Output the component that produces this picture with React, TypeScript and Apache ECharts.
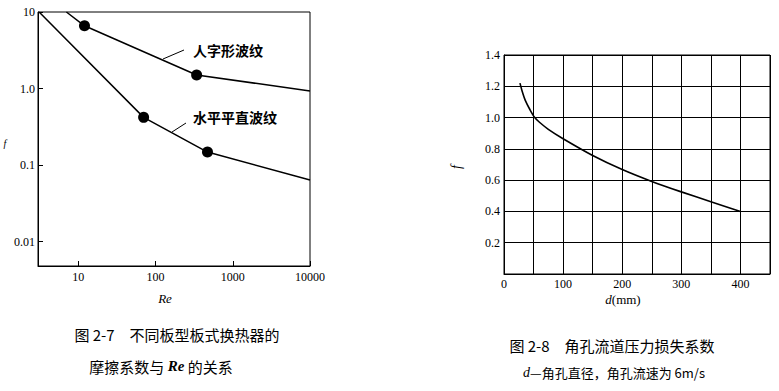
import React, { useEffect, useRef } from "react";
import * as echarts from "echarts";

// Left chart (Fig 2-7): friction factor vs Re, log-log
const herringboneRe = [7, 12, 340, 10000];
const herringboneF = [10, 6.6, 1.5, 0.93];
const herringboneMarked = [false, true, true, false];
const flatRe = [3.1, 70, 470, 10000];
const flatF = [10, 0.42, 0.148, 0.064];
const flatMarked = [false, true, true, false];
const leftYTickLabels: Record<number, string> = { 1: "10", 0: "1.0", [-1]: "0.1", [-2]: "0.01" };

// Right chart (Fig 2-8): corner-hole pressure loss coefficient
const dValues = [27, 31, 36, 44, 52, 60, 75, 100, 150, 200, 250, 300, 350, 400];
const fValues = [1.22, 1.165, 1.11, 1.05, 1.0, 0.97, 0.925, 0.865, 0.758, 0.668, 0.592, 0.525, 0.462, 0.4];

const SERIF = '"Liberation Serif", "DejaVu Serif", serif';
const CJK = '"Noto Sans CJK SC", sans-serif';

function toPoints(xs: number[], ys: number[], marked: boolean[]) {
  return xs.map((x, i) => ({
    value: [x, ys[i]],
    symbol: marked[i] ? "circle" : "none",
  }));
}

export default function App() {
  const ref = useRef<HTMLDivElement>(null);
  useEffect(() => {
    if (!ref.current) return;
    const chart = echarts.init(ref.current, undefined, { renderer: "svg" });
    const black = "#000";
    const option: any = {
      animation: false,
      backgroundColor: "#fff",
      grid: [
        { left: 38, top: 12, width: 272, height: 254, show: true, borderColor: black, borderWidth: 1 },
        { left: 504, top: 55, width: 266, height: 219, show: true, borderColor: black, borderWidth: 1 },
      ],
      xAxis: [
        {
          gridIndex: 0,
          type: "log",
          logBase: 10,
          min: 3,
          max: 10000,
          axisLine: { lineStyle: { color: black, width: 1 } },
          axisTick: { inside: true, length: 5, lineStyle: { color: black } },
          splitLine: { show: false },
          axisLabel: {
            color: black,
            fontFamily: SERIF,
            fontSize: 12,
            margin: 5,
            showMinLabel: false,
            formatter: (v: number) => {
              const e = Math.log10(v);
              return Math.abs(e - Math.round(e)) < 1e-6 && e >= 1 ? String(Math.round(v)) : "";
            },
          },
        },
        {
          gridIndex: 1,
          type: "value",
          min: 0,
          max: 450,
          interval: 50,
          axisLine: { lineStyle: { color: black, width: 1 } },
          axisTick: { show: false },
          splitLine: { show: true, lineStyle: { color: black, width: 1 } },
          axisLabel: {
            color: black,
            fontFamily: SERIF,
            fontSize: 12,
            margin: 4,
            formatter: (v: number) => (v % 100 === 0 ? String(v) : ""),
          },
        },
      ],
      yAxis: [
        {
          gridIndex: 0,
          type: "log",
          logBase: 10,
          min: 0.0048,
          max: 10,
          axisLine: { lineStyle: { color: black, width: 1 } },
          axisTick: { inside: true, length: 5, lineStyle: { color: black } },
          splitLine: { show: false },
          axisLabel: {
            color: black,
            fontFamily: SERIF,
            fontSize: 12,
            margin: 3,
            showMinLabel: false,
            formatter: (v: number) => {
              const e = Math.log10(v);
              const r = Math.round(e);
              return Math.abs(e - r) < 1e-6 ? leftYTickLabels[r] ?? "" : "";
            },
          },
        },
        {
          gridIndex: 1,
          type: "value",
          min: 0,
          max: 1.4,
          interval: 0.2,
          axisLine: { lineStyle: { color: black, width: 1 } },
          axisTick: { show: false },
          splitLine: { show: true, lineStyle: { color: black, width: 1 } },
          axisLabel: {
            color: black,
            fontFamily: SERIF,
            fontSize: 12,
            margin: 4,
            showMinLabel: false,
            formatter: (v: number) => v.toFixed(1),
          },
        },
      ],
      series: [
        {
          name: "人字形波纹",
          type: "line",
          xAxisIndex: 0,
          yAxisIndex: 0,
          data: toPoints(herringboneRe, herringboneF, herringboneMarked),
          symbolSize: 11,
          lineStyle: { color: black, width: 1.5 },
          itemStyle: { color: black },
          clip: true,
        },
        {
          name: "水平平直波纹",
          type: "line",
          xAxisIndex: 0,
          yAxisIndex: 0,
          data: toPoints(flatRe, flatF, flatMarked),
          symbolSize: 11,
          lineStyle: { color: black, width: 1.5 },
          itemStyle: { color: black },
          clip: true,
        },
        {
          name: "f",
          type: "line",
          xAxisIndex: 1,
          yAxisIndex: 1,
          data: dValues.map((d, i) => [d, fValues[i]]),
          smooth: 0.3,
          showSymbol: false,
          lineStyle: { color: black, width: 1.6 },
          itemStyle: { color: black },
        },
      ],
      graphic: [
        // Left chart annotations
        { type: "text", x: 193, y: 50, style: { text: "人字形波纹", font: `bold 14px ${CJK}`, fill: black, textAlign: "left", textVerticalAlign: "middle" } },
        { type: "line", shape: { x1: 163, y1: 59, x2: 184, y2: 50 }, style: { stroke: black, lineWidth: 1 } },
        { type: "text", x: 193, y: 117, style: { text: "水平平直波纹", font: `bold 14px ${CJK}`, fill: black, textAlign: "left", textVerticalAlign: "middle" } },
        { type: "line", shape: { x1: 172, y1: 132, x2: 186, y2: 123 }, style: { stroke: black, lineWidth: 1 } },
        { type: "text", x: 5, y: 143, style: { text: "f", font: `italic 10px ${SERIF}`, fill: black, textAlign: "center", textVerticalAlign: "middle" } },
        { type: "text", x: 165, y: 298, style: { text: "Re", font: `italic 13px ${SERIF}`, fill: black, textAlign: "center", textVerticalAlign: "middle" } },
        {
          type: "text", x: 177, y: 334,
          style: { text: "图 2-7　不同板型板式换热器的", font: `15px ${CJK}`, fill: black, textAlign: "center", textVerticalAlign: "middle" },
        },
        {
          type: "text", x: 161, y: 366,
          style: {
            text: "摩擦系数与 {i|Re} 的关系", font: `15px ${CJK}`, fill: black, textAlign: "center", textVerticalAlign: "middle",
            rich: { i: { fontFamily: SERIF, fontStyle: "italic", fontWeight: "bold", fontSize: 15 } },
          },
        },
        // Right chart annotations
        { type: "text", x: 456, y: 167, rotation: Math.PI / 2, style: { text: "f", font: `italic 14px ${SERIF}`, fill: black, textAlign: "center", textVerticalAlign: "middle" } },
        {
          type: "text", x: 623, y: 299,
          style: {
            text: "{i|d}(mm)", font: `13px ${SERIF}`, fill: black, textAlign: "center", textVerticalAlign: "middle",
            rich: { i: { fontFamily: SERIF, fontStyle: "italic", fontSize: 13 } },
          },
        },
        {
          type: "text", x: 612, y: 345,
          style: { text: "图 2-8　角孔流道压力损失系数", font: `15px ${CJK}`, fill: black, textAlign: "center", textVerticalAlign: "middle" },
        },
        {
          type: "text", x: 614, y: 372,
          style: {
            text: "{i|d}—角孔直径，角孔流速为 6m/s", font: `13px ${CJK}`, fill: black, textAlign: "center", textVerticalAlign: "middle",
            rich: { i: { fontFamily: SERIF, fontStyle: "italic", fontSize: 14 } },
          },
        },
      ],
    };
    chart.setOption(option);
    return () => chart.dispose();
  }, []);
  return <div ref={ref} style={{ position: "fixed", left: 0, top: 0, width: 779, height: 391, background: "#fff" }} />;
}
